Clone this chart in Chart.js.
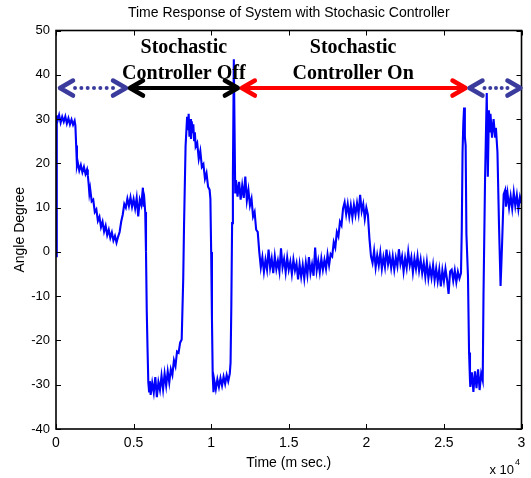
<!DOCTYPE html>
<html>
<head>
<meta charset="utf-8">
<title>Time Response of System with Stochasic Controller</title>
<script src="https://cdn.jsdelivr.net/npm/chart.js@4.4.1/dist/chart.umd.min.js"></script>
<style>
  html, body { margin: 0; padding: 0; background: #fff; }
  #wrap { width: 531px; height: 478px; }
</style>
</head>
<body>
<div id="wrap"><canvas id="chartjs-0" width="531" height="478"></canvas></div>
<script>
// Time axis in m sec (shown as x 10^4), angle in degrees
const timeMs = [
    0, 50, 100, 200, 300, 400, 500, 600, 700, 800,
    900, 1000, 1100, 1200, 1250, 1300, 1350, 1400, 1500, 1600,
    1700, 1800, 1900, 2000, 2050, 2100, 2150, 2200, 2300, 2400,
    2500, 2600, 2700, 2800, 2900, 3000, 3100, 3200, 3300, 3400,
    3500, 3600, 3700, 3800, 3900, 4000, 4100, 4200, 4300, 4400,
    4500, 4600, 4700, 4800, 4900, 5000, 5100, 5200, 5300, 5400,
    5500, 5600, 5650, 5700, 5750, 5800, 5850, 5900, 5950, 6000,
    6050, 6100, 6200, 6300, 6400, 6500, 6600, 6700, 6800, 6900,
    7000, 7100, 7200, 7300, 7400, 7500, 7600, 7700, 7800, 7900,
    8000, 8100, 8200, 8250, 8350, 8450, 8500, 8550, 8600, 8650,
    8700, 8750, 8800, 8850, 8900, 8950, 9000, 9100, 9200, 9300,
    9400, 9500, 9600, 9700, 9800, 9900, 9950, 10000, 10050, 10100,
    10150, 10200, 10300, 10400, 10500, 10600, 10700, 10800, 10900, 11000,
    11100, 11200, 11250, 11300, 11350, 11400, 11460, 11550, 11600, 11700,
    11800, 11900, 12000, 12100, 12200, 12300, 12400, 12500, 12600, 12700,
    12800, 12900, 13000, 13100, 13200, 13300, 13400, 13500, 13600, 13700,
    13800, 13900, 14000, 14100, 14200, 14300, 14400, 14500, 14600, 14700,
    14800, 14900, 15000, 15100, 15200, 15300, 15400, 15500, 15600, 15700,
    15800, 15900, 16000, 16100, 16200, 16300, 16400, 16500, 16600, 16700,
    16800, 16900, 17000, 17100, 17200, 17300, 17400, 17500, 17600, 17700,
    17800, 17900, 18000, 18100, 18200, 18300, 18400, 18500, 18600, 18700,
    18800, 18900, 19000, 19100, 19200, 19300, 19400, 19500, 19600, 19700,
    19800, 19900, 20000, 20100, 20200, 20300, 20400, 20500, 20600, 20700,
    20800, 20900, 21000, 21100, 21200, 21300, 21400, 21500, 21600, 21700,
    21800, 21900, 22000, 22100, 22200, 22300, 22400, 22500, 22600, 22700,
    22800, 22900, 23000, 23100, 23200, 23300, 23400, 23500, 23600, 23700,
    23800, 23900, 24000, 24100, 24200, 24300, 24400, 24500, 24600, 24700,
    24800, 24900, 25000, 25100, 25200, 25300, 25400, 25500, 25600, 25700,
    25800, 25900, 26000, 26100, 26150, 26200, 26250, 26300, 26350, 26400,
    26450, 26550, 26620, 26680, 26700, 26800, 26900, 27000, 27100, 27200,
    27300, 27400, 27500, 27550, 27650, 27760, 27830, 27900, 27950, 28000,
    28100, 28200, 28300, 28350, 28450, 28550, 28650, 28700, 28750, 28850,
    28950, 29000, 29100, 29200, 29300, 29400, 29500, 29600, 29700, 29800,
    29900, 30000
];
const angleDeg = [
    -1, 30.8, 29.6, 30.9, 29.2, 30.5, 29.4, 30.6, 29.0, 30.2,
    28.8, 29.9, 28.7, 29.6, 28.5, 24.0, 19.5, 20.3, 18.4, 19.6,
    18.0, 19.2, 17.6, 18.6, 17.3, 15.5, 13.2, 14.3, 11.4, 11.8,
    9.0, 9.6, 7.0, 7.9, 5.6, 6.8, 4.6, 5.9, 3.8, 5.0,
    3.2, 4.4, 2.6, 3.6, 2.1, 3.4, 4.5, 6.8, 8.4, 10.8,
    10.0, 12.0, 10.4, 12.3, 10.2, 11.9, 9.8, 12.2, 8.0, 11.8,
    10.6, 14.5, 10.2, 11.5, 9.0, 0, -13.5, -22.0, -29.5, -31.5,
    -29.2, -32.3, -29.6, -31.8, -28.3, -32.8, -29.4, -31.2, -28.0, -31.0,
    -27.5, -30.2, -27.0, -29.5, -26.5, -27.8, -24.5, -25.8, -22.5, -22.8,
    -20.5, -19.8, -6.0, 5.7, 23.8, 30.5, 27.5, 31.2, 26.0, 30.0,
    25.5, 29.5, 26.8, 28.8, 25.2, 27.0, 23.8, 24.6, 21.0, 22.8,
    19.2, 19.8, 16.5, 17.8, 14.7, 14.0, 12.0, 0, -15.0, -28.0,
    -31.7, -29.0, -31.0, -28.8, -30.5, -28.5, -30.2, -28.2, -29.8, -27.8,
    -29.2, -27.5, -25.0, -12.0, 6.5, 17.0, 43.5, 13.4, 16.2, 12.5,
    15.8, 11.8, 15.0, 12.2, 17.0, 11.6, 14.0, 10.5, 12.0, 8.0,
    9.0, 5.0, 4.5, 0, -3.5, -1.2, -4.5, -1.8, -4.0, 0.5,
    -3.6, -1.5, -4.8, -1.0, -3.9, -2.0, -4.4, 0.8, -3.5, -1.6,
    -4.6, -1.3, -4.0, -2.2, -5.0, -1.8, -4.2, -2.6, -6.2, -2.8,
    -5.6, -3.0, -6.0, -2.5, -5.2, -1.2, -4.8, -2.8, -5.4, 1.0,
    -4.2, -2.0, -4.6, -1.5, -4.0, -1.8, -3.8, -0.6, -3.0, -0.5,
    -1.0, 2.2, 1.0, 4.5, 3.5, 6.8, 6.0, 9.8, 11.2, 8.5,
    10.8, 8.0, 10.5, 7.8, 10.6, 8.4, 11.0, 8.6, 12.9, 9.2,
    10.8, 7.5, 10.0, 8.4, 3.0, -1.0, -2.5, 0.2, -3.5, -0.8,
    -3.0, -0.2, -3.8, -1.2, -3.4, 0.5, -2.8, -0.9, -3.6, -1.0,
    -4.0, -1.3, -3.2, 0.6, -2.7, -1.0, -4.4, -1.4, -3.6, 0.0,
    -3.0, -1.2, -4.6, -1.5, -3.8, -1.0, -4.2, -1.8, -4.8, -2.5,
    -5.6, -2.4, -6.0, -3.5, -5.8, -3.0, -6.4, -3.8, -6.6, -4.0,
    -7.8, -4.2, -6.6, -3.8, -6.2, -9.5, -4.4, -4.0, -6.5, -4.2,
    -6.8, -4.5, -6.0, -4.8, 5.0, 22.5, 29.0, 32.6, 26.0, 24.0,
    4.0, -5.5, -22.7, -29.0, -30.5, -27.2, -31.6, -27.0, -30.8, -26.5,
    -31.2, -27.5, -29.0, -10.0, 16.3, 35.9, 17.0, 32.0, 27.0, 31.2,
    25.8, 30.0, 26.0, 28.0, 22.5, 6.0, -7.7, -3.0, 2.0, 13.0,
    14.0, 10.2, 13.2, 10.0, 12.6, 9.8, 13.4, 10.4, 12.8, 9.7,
    12.4, 11.0
];

const xTicks = [0, 5000, 10000, 15000, 20000, 25000, 30000];
const xTickLabels = ['0', '0.5', '1', '1.5', '2', '2.5', '3'];
const yTicks = [-40, -30, -20, -10, 0, 10, 20, 30, 40, 50];

// controller phases: off -> on -> off again (m sec)
const phaseEdges = [130, 4640, 11850, 26520, 30060];
const phaseLevel = 37;

const chartTitle = 'Time Response of System with Stochasic Controller';

Chart.defaults.font.family = '"Liberation Sans", Arial, sans-serif';
Chart.defaults.color = '#000';

// draws one open arrow head, dir 1 = pointing right
function arrowHead(ctx, x, y, dir, color) {
    ctx.beginPath();
    ctx.moveTo(x - dir * 13, y - 7.5);
    ctx.lineTo(x, y);
    ctx.lineTo(x - dir * 13, y + 7.5);
    ctx.strokeStyle = color;
    ctx.lineWidth = 4.5;
    ctx.lineCap = 'round';
    ctx.lineJoin = 'round';
    ctx.stroke();
}

function solidArrow(ctx, x1, x2, y, color) {
    ctx.beginPath();
    ctx.moveTo(x1 + 2, y);
    ctx.lineTo(x2 - 2, y);
    ctx.strokeStyle = color;
    ctx.lineWidth = 4;
    ctx.lineCap = 'butt';
    ctx.stroke();
    arrowHead(ctx, x1 + 2, y, -1, color);
    arrowHead(ctx, x2 - 2, y, 1, color);
}

function dottedArrow(ctx, x1, x2, y, color) {
    arrowHead(ctx, x1 + 2, y, -1, color);
    arrowHead(ctx, x2 - 2, y, 1, color);
    var from = x1 + 17, to = x2 - 15;
    var n = Math.max(1, Math.round((to - from) / 6.3));
    ctx.fillStyle = color;
    for (let i = 0; i <= n; i++) {
        ctx.beginPath();
        ctx.arc(from + (to - from) * i / n, y, 2, 0, Math.PI * 2);
        ctx.fill();
    }
}

const matlabLook = {
    id: 'matlabLook',
    afterDraw(chart) {
        const ctx = chart.ctx;
        const a = chart.chartArea;
        const xs = chart.scales.x, ys = chart.scales.y;
        ctx.save();

        // title sits centred over the axes, not over the canvas
        ctx.fillStyle = '#000';
        ctx.font = '14px "Liberation Sans", Arial, sans-serif';
        ctx.textAlign = 'center';
        ctx.textBaseline = 'middle';
        ctx.fillText(chartTitle, (a.left + a.right) / 2, 13.5);

        // box with ticks pointing inwards on all four sides
        ctx.strokeStyle = '#000';
        ctx.lineWidth = 1;
        ctx.beginPath();
        xTicks.forEach(v => {
            const px = Math.round(xs.getPixelForValue(v)) + 0.5;
            ctx.moveTo(px, a.bottom); ctx.lineTo(px, a.bottom - 5);
            ctx.moveTo(px, a.top); ctx.lineTo(px, a.top + 5);
        });
        yTicks.forEach(v => {
            const py = Math.round(ys.getPixelForValue(v)) + 0.5;
            ctx.moveTo(a.left, py); ctx.lineTo(a.left + 5, py);
            ctx.moveTo(a.right, py); ctx.lineTo(a.right - 5, py);
        });
        ctx.stroke();
        ctx.lineWidth = 1.6;
        ctx.strokeRect(a.left, a.top, a.right - a.left, a.bottom - a.top);

        // exponent under the x axis
        ctx.textAlign = 'left';
        ctx.textBaseline = 'alphabetic';
        ctx.font = '13px "Liberation Sans", Arial, sans-serif';
        const ex = a.right - 32;
        ctx.fillText('x 10', ex, 474);
        const w = ctx.measureText('x 10').width;
        ctx.font = '9px "Liberation Sans", Arial, sans-serif';
        ctx.fillText('4', ex + w + 1, 465);

        // controller phase arrows
        const py = ys.getPixelForValue(phaseLevel);
        const p = phaseEdges.map(v => xs.getPixelForValue(v));
        dottedArrow(ctx, p[0], p[1], py, '#3b3b9e');
        solidArrow(ctx, p[1], p[2], py, '#000000');
        solidArrow(ctx, p[2], p[3], py, '#ff0000');
        dottedArrow(ctx, p[3], p[4], py, '#3b3b9e');

        ctx.font = 'bold 20px "Liberation Serif", "Times New Roman", serif';
        ctx.fillStyle = '#000';
        ctx.textAlign = 'center';
        const t1 = ys.getPixelForValue(45), t2 = ys.getPixelForValue(39.1);
        ctx.fillText('Stochastic', xs.getPixelForValue(8240), t1);
        ctx.fillText('Controller Off', xs.getPixelForValue(8240), t2);
        ctx.fillText('Stochastic', xs.getPixelForValue(19150), t1);
        ctx.fillText('Controller On', xs.getPixelForValue(19150), t2);
        ctx.restore();
    }
};

const points = timeMs.map((t, i) => ({ x: t, y: angleDeg[i] }));

new Chart(document.getElementById('chartjs-0').getContext('2d'), {
    type: 'line',
    data: {
        datasets: [{
            data: points,
            borderColor: '#0000ff',
            borderWidth: 2.1,
            pointRadius: 0,
            tension: 0,
            fill: false
        }]
    },
    options: {
        responsive: false,
        animation: false,
        layout: { padding: { left: 0, right: 9, top: 30.5, bottom: 0 } },
        plugins: {
            legend: { display: false },
            tooltip: { enabled: false },
            title: { display: false }
        },
        scales: {
            x: {
                type: 'linear',
                min: 0,
                max: 30000,
                afterFit: s => { s.height = 49; },
                afterBuildTicks: s => { s.ticks = xTicks.map(v => ({ value: v })); },
                ticks: {
                    font: { size: 14 },
                    padding: 5.6,
                    maxRotation: 0,
                    callback: (v, i) => xTickLabels[i]
                },
                grid: { display: false, drawTicks: false },
                border: { display: false },
                title: {
                    display: true,
                    text: 'Time (m sec.)',
                    font: { size: 14 },
                    padding: { top: 0, bottom: 6.6 }
                }
            },
            y: {
                type: 'linear',
                min: -40,
                max: 50,
                afterFit: s => { s.width = 56; },
                afterBuildTicks: s => { s.ticks = yTicks.map(v => ({ value: v })); },
                ticks: { font: { size: 13 }, padding: 6 },
                grid: { display: false, drawTicks: false },
                border: { display: false },
                title: {
                    display: true,
                    text: 'Angle Degree',
                    font: { size: 14 },
                    padding: { top: 11.6, bottom: 0 }
                }
            }
        }
    },
    plugins: [matlabLook]
});
</script>
</body>
</html>
